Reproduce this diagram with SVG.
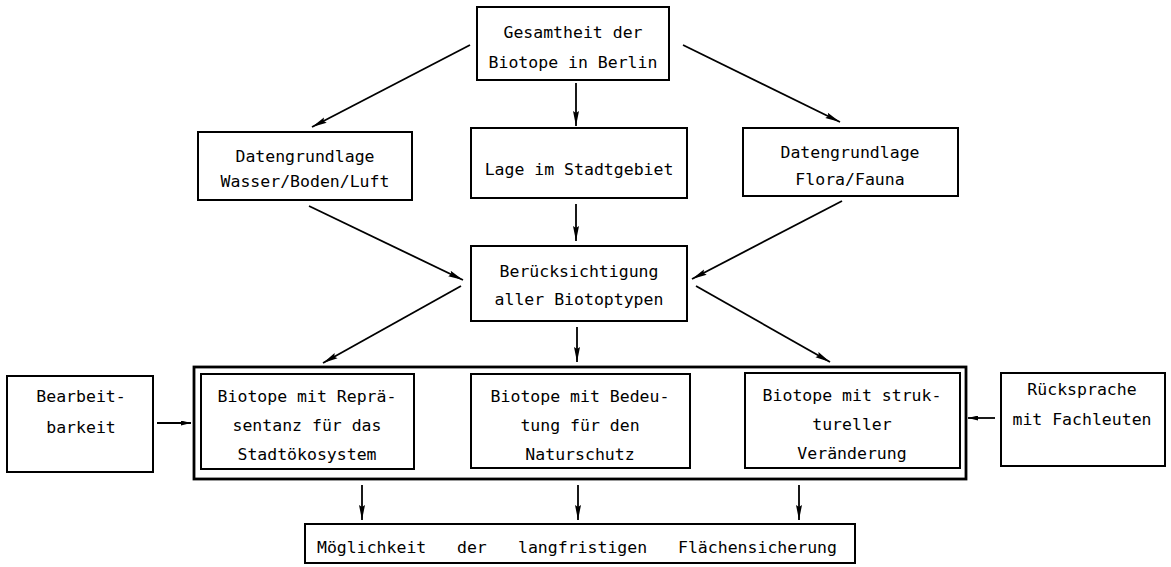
<svg xmlns="http://www.w3.org/2000/svg" width="1171" height="567" viewBox="0 0 1171 567">
<defs>
<marker id="ah" viewBox="0 0 15 7" refX="15" refY="3.5" markerWidth="15" markerHeight="7" markerUnits="userSpaceOnUse" orient="auto">
<path d="M0,0.5 L15,3.5 L0,6.5 L2,3.5 z" fill="#000"/>
</marker>
<marker id="ahs" viewBox="0 0 10 5" refX="10" refY="2.5" markerWidth="10" markerHeight="5" markerUnits="userSpaceOnUse" orient="auto">
<path d="M0,0 L10,2.5 L0,5 z" fill="#000"/>
</marker>
<style>
rect.box{fill:#fff;stroke:#000;stroke-width:2}
rect.outer{fill:none;stroke:#000;stroke-width:2.8}
text{font-family:"DejaVu Sans Mono","Liberation Mono",monospace;font-size:16.5px;fill:#000;text-anchor:middle}
text.l{text-anchor:start}
#connectors line{stroke:#000;stroke-width:1.8;marker-end:url(#ah)}
#connectors line.s{marker-end:url(#ahs)}
</style>
</defs>
<rect width="1171" height="567" fill="#fff"/>

<g id="connectors">
<line x1="470" y1="45" x2="312" y2="127"/>
<line x1="576" y1="83" x2="576" y2="126"/>
<line x1="683" y1="45" x2="840" y2="122"/>
<line x1="309" y1="206" x2="463" y2="280"/>
<line x1="576" y1="204" x2="576" y2="241"/>
<line x1="842" y1="201" x2="692" y2="279"/>
<line x1="461" y1="286" x2="323" y2="363"/>
<line x1="577" y1="327" x2="577" y2="362"/>
<line x1="696" y1="286" x2="830" y2="362"/>
<line class="s" x1="157" y1="423" x2="191" y2="423"/>
<line class="s" x1="995" y1="418" x2="968" y2="418"/>
<line x1="362" y1="485" x2="362" y2="520"/>
<line x1="578" y1="485" x2="578" y2="520"/>
<line x1="799" y1="485" x2="799" y2="520"/>
</g>

<g id="n-gesamtheit">
<rect class="box" x="477" y="7" width="192" height="73"/>
<text x="573" y="38">Gesamtheit der</text>
<text x="573" y="68">Biotope in Berlin</text>
</g>

<g id="n-wasser">
<rect class="box" x="198" y="132" width="214" height="68"/>
<text x="305" y="162">Datengrundlage</text>
<text x="305" y="187">Wasser/Boden/Luft</text>
</g>

<g id="n-lage">
<rect class="box" x="471" y="128" width="216" height="70"/>
<text x="579" y="175">Lage im Stadtgebiet</text>
</g>

<g id="n-flora">
<rect class="box" x="743" y="128" width="215" height="68"/>
<text x="850" y="158">Datengrundlage</text>
<text x="850" y="185">Flora/Fauna</text>
</g>

<g id="n-beruecksichtigung">
<rect class="box" x="471" y="246" width="216" height="75"/>
<text x="579" y="277">Berücksichtigung</text>
<text x="579" y="305">aller Biotoptypen</text>
</g>

<g id="n-gruppe">
<rect class="outer" x="194" y="367" width="772" height="112"/>
</g>

<g id="n-repraesentanz">
<rect class="box" x="201" y="374" width="213" height="95"/>
<text x="307" y="402">Biotope mit Reprä-</text>
<text x="307" y="431">sentanz für das</text>
<text x="307" y="460">Stadtökosystem</text>
</g>

<g id="n-bedeutung">
<rect class="box" x="471" y="374" width="219" height="94"/>
<text x="580" y="402">Biotope mit Bedeu-</text>
<text x="580" y="431">tung für den</text>
<text x="580" y="460">Naturschutz</text>
</g>

<g id="n-strukturell">
<rect class="box" x="745" y="373" width="215" height="95"/>
<text x="852" y="401">Biotope mit struk-</text>
<text x="852" y="430">tureller</text>
<text x="852" y="459">Veränderung</text>
</g>

<g id="n-bearbeitbarkeit">
<rect class="box" x="7" y="376" width="146" height="96"/>
<text x="81" y="402">Bearbeit-</text>
<text x="81" y="433">barkeit</text>
</g>

<g id="n-ruecksprache">
<rect class="box" x="1001" y="373" width="164" height="93"/>
<text x="1082" y="395">Rücksprache</text>
<text x="1082" y="425">mit Fachleuten</text>
</g>

<g id="n-flaechensicherung">
<rect class="box" x="305" y="524" width="550" height="39"/>
<text class="l" y="553"><tspan x="317">Möglichkeit</tspan><tspan x="457">der</tspan><tspan x="518">langfristigen</tspan><tspan x="678">Flächensicherung</tspan></text>
</g>
</svg>
